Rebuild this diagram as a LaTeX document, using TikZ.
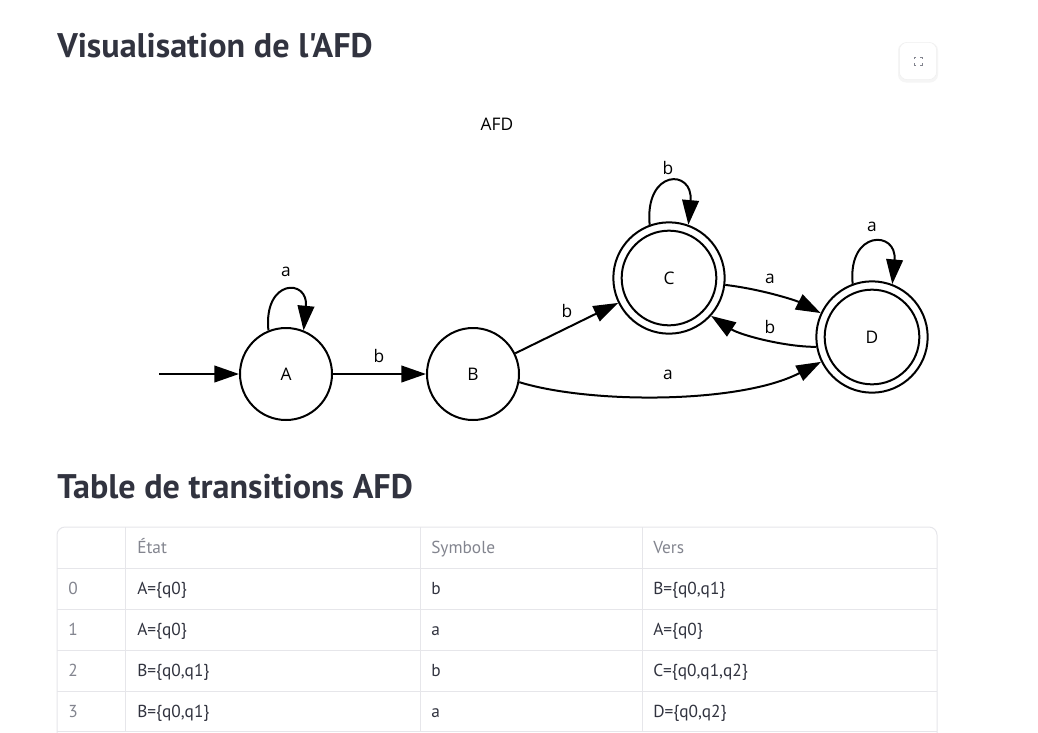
\documentclass[tikz,border=0pt]{standalone}
\usepackage{fontspec}
\setmainfont{PT Sans}
\newfontfamily\headfont{PT Sans}
\newfontfamily\gvfont{Open Sans}
\usetikzlibrary{arrows.meta,shapes.geometric}
\definecolor{stdark}{HTML}{31333F}
\definecolor{stgray}{HTML}{83858F}
\definecolor{stline}{HTML}{E6E6EA}
\begin{document}
\begin{tikzpicture}[x=0.75pt,y=-0.75pt,
  arr/.style={line width=1.5pt,-{Triangle[length=18.5pt,width=12.5pt]}},
  st/.style={circle,draw,line width=1.5pt,inner sep=0pt,minimum size=69pt,font=\gvfont\fontsize{13}{15}\selectfont},
  acc/.style={circle,draw,line width=1.5pt,inner sep=0pt,minimum size=83.5pt,font=\gvfont\fontsize{13}{15}\selectfont},
  accin/.style={circle,draw,line width=1.5pt,inner sep=0pt,minimum size=71pt},
  lbl/.style={font=\gvfont\fontsize{13}{15}\selectfont,inner sep=0pt},
  head/.style={anchor=base west,inner sep=0pt,text=stdark,font=\headfont\bfseries\fontsize{25.6}{30}\selectfont},
  th/.style={anchor=base west,inner sep=0pt,text=stgray,font=\fontsize{13}{15}\selectfont},
  td/.style={anchor=base west,inner sep=0pt,text=stdark,font=\fontsize{13}{15}\selectfont},
  tline/.style={draw=stline,line width=0.75pt}]
\useasboundingbox[fill=white] (0,0) rectangle (1038,732);

% headings
\node[head] (h1) at (57,57) {Visualisation de l'AFD};
\node[head] (h2) at (57,498) {Table de transitions AFD};

% expand button
\node[fill=black!4,rounded corners=6pt,minimum size=30pt,inner sep=0pt] (btnsh) at (918,62.5) {};
\node[fill=white,draw=black!6,rounded corners=6pt,minimum size=28pt,inner sep=0pt] (btn) at (918,61) {};
\draw[stgray,line width=0.6pt] (914,59) -- (914,57) -- (916,57)
  (920,57) -- (922,57) -- (922,59)
  (922,63) -- (922,65) -- (920,65)
  (916,65) -- (914,65) -- (914,63);

% graph
\node[lbl] (gtitle) at (497,124) {AFD};
\node[st] (A) at (286,374) {A};
\node[st] (B) at (473,374) {B};
\node[acc] (C) at (669,278) {C};
\node[accin] (Cin) at (669,278) {};
\node[acc] (D) at (872,337) {D};
\node[accin] (Din) at (872,337) {};
\coordinate (start) at (159,374);

\draw[arr] (start) -- (A);
\draw[arr] (A.112) .. controls +(-5,-52) and +(5,-52) .. (A.68);
\draw[arr] (A) -- (B);
\draw[arr] (B) -- (C);
\draw[arr] (B.-10) .. controls (590,404) and (740,404) .. (D.206);
\draw[arr] (C.110) .. controls +(-5,-56) and +(5,-56) .. (C.70);
\draw[arr] (C.-7) .. controls (760,289) and (795,300) .. (D.155);
\draw[arr] (D.190) .. controls (785,347) and (740,335) .. (C.-42);
\draw[arr] (D.110) .. controls +(-5,-54) and +(5,-54) .. (D.69);

\node[lbl] (lAA) at (286,272) {a};
\node[lbl] (lAB) at (379,356) {b};
\node[lbl] (lBC) at (567,311) {b};
\node[lbl] (lBD) at (668,375) {a};
\node[lbl] (lCC) at (668,168) {b};
\node[lbl] (lCD) at (770,279) {a};
\node[lbl] (lDC) at (770,327) {b};
\node[lbl] (lDD) at (872,227) {a};

% table
\draw[tline,rounded corners=6pt] (57,740) -- (57,527) -- (937,527) -- (937,740);
\foreach \yy in {568,609,650,691,731} \draw[tline] (57,\yy) -- (937,\yy);
\foreach \xx in {125,420,642} \draw[tline] (\xx,527) -- (\xx,732);

\node[th] (c1) at (137,553.5) {État};
\node[th] (c2) at (431,553.5) {Symbole};
\node[th] (c3) at (653,553.5) {Vers};

\node[th] (i0) at (68,594.5) {0};
\node[td] (a0) at (137,594.5) {A=\{q0\}};
\node[td] (b0) at (431,594.5) {b};
\node[td] (v0) at (653,594.5) {B=\{q0,q1\}};

\node[th] (i1) at (68,635.5) {1};
\node[td] (a1) at (137,635.5) {A=\{q0\}};
\node[td] (b1) at (431,635.5) {a};
\node[td] (v1) at (653,635.5) {A=\{q0\}};

\node[th] (i2) at (68,676.5) {2};
\node[td] (a2) at (137,676.5) {B=\{q0,q1\}};
\node[td] (b2) at (431,676.5) {b};
\node[td] (v2) at (653,676.5) {C=\{q0,q1,q2\}};

\node[th] (i3) at (68,717.5) {3};
\node[td] (a3) at (137,717.5) {B=\{q0,q1\}};
\node[td] (b3) at (431,717.5) {a};
\node[td] (v3) at (653,717.5) {D=\{q0,q2\}};
\end{tikzpicture}
\end{document}
